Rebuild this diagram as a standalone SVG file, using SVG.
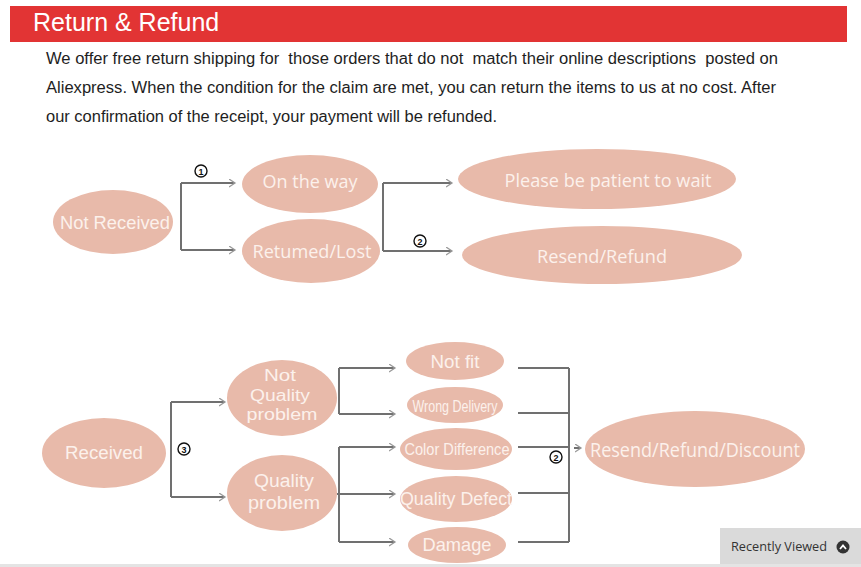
<svg xmlns="http://www.w3.org/2000/svg" width="861" height="567" viewBox="0 0 861 567">
<style>
.node ellipse{fill:#e8baaa}
.node text{fill:#fcf1ec;font-family:"Open Sans","Liberation Sans",sans-serif;text-anchor:middle}
.node text.a{font-family:"Liberation Sans",Arial,sans-serif}
.para{font-family:"Liberation Sans",Arial,sans-serif;font-size:16px;fill:#1e1e1e;white-space:pre}
.conn path{fill:none;stroke:#707070;stroke-width:2}
.num circle{fill:#fff;stroke:#111;stroke-width:1.4}
.num text{font-family:"Liberation Sans",sans-serif;font-size:9px;font-weight:bold;fill:#111;text-anchor:middle}
</style>
<defs>
<marker id="arr" markerUnits="userSpaceOnUse" markerWidth="10" markerHeight="10" refX="6" refY="4" orient="auto">
<path d="M0,0 L6,4 L0,8" fill="none" stroke="#9a9a9a" stroke-width="1.3"/>
</marker>
</defs>
<rect width="861" height="567" fill="#fff"/>
<g id="header">
<rect x="10" y="6" width="837" height="36" fill="#e23434"/>
<text x="33" y="31" font-family="Liberation Sans,Arial,sans-serif" font-size="25" fill="#fff">Return &amp; Refund</text>
</g>
<g id="intro">
<text class="para" x="46" y="64" textLength="732" lengthAdjust="spacingAndGlyphs">We offer free return shipping for  those orders that do not  match their online descriptions  posted on</text>
<text class="para" x="46" y="93" textLength="730" lengthAdjust="spacingAndGlyphs">Aliexpress. When the condition for the claim are met, you can return the items to us at no cost. After</text>
<text class="para" x="46" y="122" textLength="451" lengthAdjust="spacingAndGlyphs">our confirmation of the receipt, your payment will be refunded.</text>
</g>
<g id="connectors" class="conn">
<path d="M181,183 V250"/>
<path d="M181,183 H235" marker-end="url(#arr)"/>
<path d="M181,250 H235" marker-end="url(#arr)"/>
<path d="M383,183 V251"/>
<path d="M383,183 H452" marker-end="url(#arr)"/>
<path d="M383,251 H452" marker-end="url(#arr)"/>
<path d="M171,402 V497"/>
<path d="M171,402 H225" marker-end="url(#arr)"/>
<path d="M171,497 H225" marker-end="url(#arr)"/>
<path d="M339,368 V414"/>
<path d="M339,368 H395" marker-end="url(#arr)"/>
<path d="M339,414 H395" marker-end="url(#arr)"/>
<path d="M339,447 V542"/>
<path d="M339,447 H395" marker-end="url(#arr)"/>
<path d="M337,494 H395" marker-end="url(#arr)"/>
<path d="M339,542 H395" marker-end="url(#arr)"/>
<path d="M518,368 H569 M518,413 H569 M518,447 H569 M518,493 H569 M518,542 H569 M569,368 V542"/>
<path d="M574,448 H581" stroke="none" marker-end="url(#arr)"/>
</g>
<g id="labels" class="num">
<circle cx="201" cy="171" r="6"/><text x="201" y="174.5">1</text>
<circle cx="420" cy="241" r="6"/><text x="420" y="244.5">2</text>
<circle cx="184" cy="449" r="6"/><text x="184" y="452.5">3</text>
<circle cx="556" cy="457" r="6"/><text x="556" y="460.5">2</text>
</g>
<g id="not-received" class="node"><ellipse cx="113" cy="222" rx="60" ry="32"/><text class="a" x="115" y="229" font-size="18" textLength="110" lengthAdjust="spacingAndGlyphs">Not Received</text></g>
<g id="on-the-way" class="node"><ellipse cx="310" cy="184" rx="68" ry="29"/><text x="310" y="188" font-size="19" textLength="95" lengthAdjust="spacingAndGlyphs">On the way</text></g>
<g id="returned-lost" class="node"><ellipse cx="311" cy="251" rx="69" ry="32"/><text x="312" y="258" font-size="19" textLength="119" lengthAdjust="spacingAndGlyphs">Retumed/Lost</text></g>
<g id="patient" class="node"><ellipse cx="597" cy="179" rx="139" ry="30"/><text x="608" y="187" font-size="19" textLength="207" lengthAdjust="spacingAndGlyphs">Please be patient to wait</text></g>
<g id="resend-refund" class="node"><ellipse cx="602" cy="255" rx="140" ry="29"/><text x="602" y="263" font-size="19" textLength="130" lengthAdjust="spacingAndGlyphs">Resend/Refund</text></g>
<g id="received" class="node"><ellipse cx="104" cy="453" rx="62" ry="35"/><text class="a" x="104" y="459" font-size="18" textLength="78" lengthAdjust="spacingAndGlyphs">Received</text></g>
<g id="not-quality" class="node"><ellipse cx="282" cy="398" rx="55" ry="38"/>
<text class="a" x="280" y="381" font-size="16" textLength="32" lengthAdjust="spacingAndGlyphs">Not</text>
<text class="a" x="280" y="400.5" font-size="16" textLength="60" lengthAdjust="spacingAndGlyphs">Quality</text>
<text class="a" x="282" y="420" font-size="16" textLength="71" lengthAdjust="spacingAndGlyphs">problem</text></g>
<g id="quality" class="node"><ellipse cx="282" cy="493" rx="55" ry="38"/>
<text class="a" x="284" y="487" font-size="18" textLength="60" lengthAdjust="spacingAndGlyphs">Quality</text>
<text class="a" x="284" y="509" font-size="18" textLength="72" lengthAdjust="spacingAndGlyphs">problem</text></g>
<g id="not-fit" class="node"><ellipse cx="455" cy="361" rx="49" ry="19"/><text class="a" x="455" y="368" font-size="18" textLength="49" lengthAdjust="spacingAndGlyphs">Not fit</text></g>
<g id="wrong-delivery" class="node"><ellipse cx="455" cy="405" rx="48" ry="18"/><text class="a" x="455" y="412" font-size="17" textLength="85" lengthAdjust="spacingAndGlyphs">Wrong Delivery</text></g>
<g id="color-difference" class="node"><ellipse cx="456" cy="449" rx="56" ry="21"/><text class="a" x="457" y="455" font-size="17" textLength="105" lengthAdjust="spacingAndGlyphs">Color Difference</text></g>
<g id="quality-defect" class="node"><ellipse cx="456" cy="499" rx="56" ry="23"/><text class="a" x="456" y="505" font-size="18" textLength="112" lengthAdjust="spacingAndGlyphs">Quality Defect</text></g>
<g id="damage" class="node"><ellipse cx="457" cy="545" rx="49" ry="18"/><text class="a" x="457" y="551" font-size="19" textLength="69" lengthAdjust="spacingAndGlyphs">Damage</text></g>
<g id="resend-refund-discount" class="node"><ellipse cx="695" cy="449" rx="110" ry="38"/><text x="695" y="457" font-size="20" textLength="210" lengthAdjust="spacingAndGlyphs">Resend/Refund/Discount</text></g>
<rect x="0" y="564" width="861" height="3" fill="#e4e4e4"/>
<g id="recently-viewed">
<rect x="720" y="528" width="141" height="36" fill="#dadada"/>
<text x="731" y="551" font-family="Open Sans,Liberation Sans,sans-serif" font-size="13" fill="#333" textLength="96" lengthAdjust="spacingAndGlyphs">Recently Viewed</text>
<circle cx="843" cy="547" r="6.5" fill="#333"/>
<path d="M840,549 L843,545.5 L846,549" fill="none" stroke="#fff" stroke-width="1.8"/>
</g>
</svg>
